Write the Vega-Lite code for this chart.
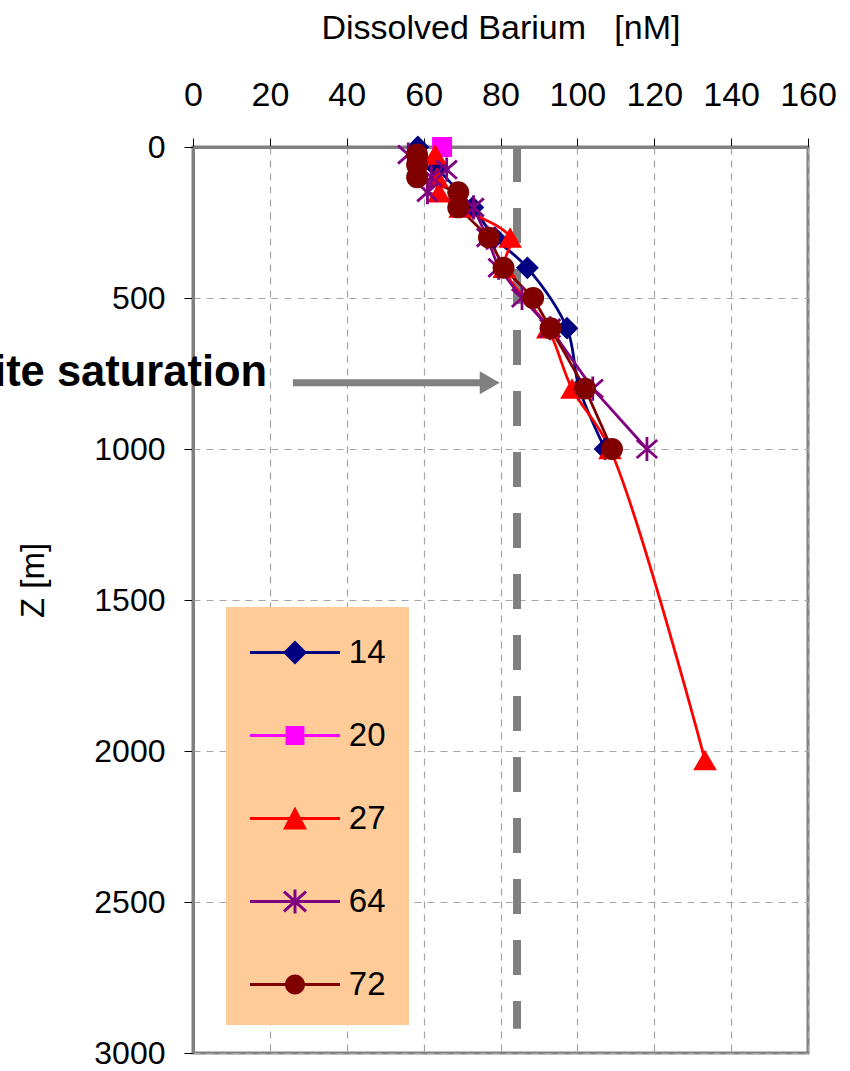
{
  "$schema": "https://vega.github.io/schema/vega-lite/v6.json",
  "autosize": {"type": "none"},
  "padding": {"left": 193, "top": 147, "right": 42, "bottom": 18},
  "width": 615,
  "height": 906,
  "background": "white",
  "config": {
    "font": "Arial",
    "view": {"stroke": "#808080", "strokeWidth": 3},
    "axis": {
      "domainColor": "#808080", "domainWidth": 3,
      "tickColor": "black", "tickWidth": 1, "tickSize": 9,
      "gridColor": "#A6A6A6", "gridDash": [7, 6], "gridWidth": 1.2,
      "labelFont": "Arial", "titleFont": "Arial",
      "labelColor": "black", "titleColor": "black", "titleFontWeight": "normal",
      "labelOverlap": false, "labelFlush": false
    }
  },
  "datasets": {
    "profiles": [
      {"series": "14", "z": 0, "ba": 58.5},
      {"series": "14", "z": 70, "ba": 63.5},
      {"series": "14", "z": 200, "ba": 72.8},
      {"series": "14", "z": 300, "ba": 78.5},
      {"series": "14", "z": 400, "ba": 87},
      {"series": "14", "z": 600, "ba": 97.3},
      {"series": "14", "z": 800, "ba": 100.5},
      {"series": "14", "z": 1000, "ba": 107.2},
      {"series": "20", "z": 0, "ba": 64.8},
      {"series": "27", "z": 25, "ba": 63},
      {"series": "27", "z": 100, "ba": 63.5},
      {"series": "27", "z": 150, "ba": 64},
      {"series": "27", "z": 200, "ba": 69.5},
      {"series": "27", "z": 300, "ba": 82.5},
      {"series": "27", "z": 400, "ba": 81},
      {"series": "27", "z": 600, "ba": 92.3},
      {"series": "27", "z": 800, "ba": 98.6},
      {"series": "27", "z": 1000, "ba": 108.5},
      {"series": "27", "z": 2030, "ba": 133.2},
      {"series": "64", "z": 25, "ba": 56},
      {"series": "64", "z": 75, "ba": 66},
      {"series": "64", "z": 100, "ba": 62},
      {"series": "64", "z": 150, "ba": 61},
      {"series": "64", "z": 200, "ba": 73},
      {"series": "64", "z": 300, "ba": 76.5},
      {"series": "64", "z": 400, "ba": 79.5},
      {"series": "64", "z": 500, "ba": 85.6},
      {"series": "64", "z": 600, "ba": 92.9},
      {"series": "64", "z": 800, "ba": 104},
      {"series": "64", "z": 1000, "ba": 118.1},
      {"series": "72", "z": 25, "ba": 58.3},
      {"series": "72", "z": 60, "ba": 58.3},
      {"series": "72", "z": 100, "ba": 58.3},
      {"series": "72", "z": 150, "ba": 69},
      {"series": "72", "z": 200, "ba": 69},
      {"series": "72", "z": 300, "ba": 77},
      {"series": "72", "z": 400, "ba": 80.8},
      {"series": "72", "z": 500, "ba": 88.5},
      {"series": "72", "z": 600, "ba": 93},
      {"series": "72", "z": 800, "ba": 102},
      {"series": "72", "z": 1000, "ba": 109}
    ],
    "saturation": [{"ba": 84.3, "z": 0, "z2": 2920}],
    "arrow": [{"ba": 26, "ba2": 75, "z": 781}],
    "arrowhead": [{"ba": 77.2, "z": 781}],
    "label": [{"ba": 19.3, "z": 790, "text": "Barite saturation"}]
  },
  "encoding": {
    "x": {
      "field": "ba", "type": "quantitative",
      "scale": {"domain": [0, 160], "nice": false, "zero": false},
      "axis": {
        "orient": "top", "values": [0, 20, 40, 60, 80, 100, 120, 140, 160],
        "title": "Dissolved Barium \u00a0 [nM]",
        "labelFontSize": 34, "labelBaseline": "alphabetic", "labelPadding": 33,
        "titleFontSize": 34, "titleBaseline": "alphabetic", "titleX": 307.5, "titleY": -109, "titleAlign": "center"
      }
    },
    "y": {
      "field": "z", "type": "quantitative",
      "scale": {"domain": [0, 3000], "reverse": true, "nice": false},
      "axis": {
        "values": [0, 500, 1000, 1500, 2000, 2500, 3000],
        "format": "d",
        "title": "Z [m]",
        "labelFontSize": 32, "labelPadding": 19,
        "titleFontSize": 33, "titleBaseline": "alphabetic", "titleX": -150, "titleY": 433, "titleAlign": "center", "titleAngle": -90
      }
    }
  },
  "layer": [
    {
      "data": {"name": "saturation"},
      "mark": {"type": "rule", "color": "#808080", "strokeWidth": 8, "strokeDash": [35, 26]},
      "encoding": {"y2": {"field": "z2"}}
    },
    {
      "data": {"name": "arrow"},
      "mark": {"type": "rule", "color": "#808080", "strokeWidth": 7},
      "encoding": {"x2": {"field": "ba2"}}
    },
    {
      "data": {"name": "arrowhead"},
      "mark": {"type": "point", "shape": "triangle-right", "size": 530, "filled": true, "color": "#808080", "opacity": 1},
      "encoding": {}
    },
    {
      "data": {"name": "label"},
      "mark": {"type": "text", "align": "right", "baseline": "alphabetic", "fontSize": 43.5, "fontWeight": "bold", "font": "Arial", "color": "black"},
      "encoding": {"text": {"field": "text"}}
    },
    {
      "data": {"name": "profiles"},
      "mark": {"type": "point", "filled": true, "opacity": 0},
      "encoding": {
        "color": {
          "field": "series", "type": "nominal",
          "scale": {"domain": ["14", "20", "27", "64", "72"], "range": ["#000080", "#FF00FF", "#FF0000", "#800080", "#800000"]},
          "legend": {
            "orient": "none", "legendX": 33, "legendY": 460, "title": null,
            "fillColor": "#FFCC99", "padding": 23, "rowPadding": 43,
            "labelFontSize": 33, "labelFont": "Arial", "labelColor": "black",
            "labelAlign": "right", "labelOffset": 68, "symbolOffset": 23.5,
            "symbolSize": 2025, "symbolOpacity": 1, "symbolStrokeWidth": 0
          }
        },
        "shape": {
          "field": "series", "type": "nominal",
          "scale": {
            "domain": ["14", "20", "27", "64", "72"],
            "range": [
              "M-2,-0.067H2V0.067H-2ZM0,-0.533L0.533,0L0,0.533L-0.533,0Z",
              "M-2,-0.067H2V0.067H-2ZM-0.42,-0.42H0.42V0.42H-0.42Z",
              "M-2,-0.067H2V0.067H-2ZM0,-0.533L0.533,0.49L-0.533,0.49Z",
              "M-2,-0.067H2V0.067H-2ZM-0.067,-0.533H0.067V0.533H-0.067ZM-0.534,-0.394L-0.444,-0.494L0.534,0.394L0.444,0.494ZM-0.444,0.494L-0.534,0.394L0.444,-0.494L0.534,-0.394Z",
              "M-2,-0.067H2V0.067H-2ZM-0.444,0A0.444,0.444 0 1,1 0.444,0A0.444,0.444 0 1,1 -0.444,0Z"
            ]
          },
          "legend": {
            "orient": "none", "legendX": 33, "legendY": 460, "title": null,
            "fillColor": "#FFCC99", "padding": 23, "rowPadding": 43,
            "labelFontSize": 33, "labelFont": "Arial", "labelColor": "black",
            "labelAlign": "right", "labelOffset": 68, "symbolOffset": 23.5,
            "symbolSize": 2025, "symbolOpacity": 1, "symbolStrokeWidth": 0
          }
        }
      }
    },
    {
      "data": {"name": "profiles"},
      "transform": [{"filter": "datum.series === '14' || datum.series === '27'"}],
      "mark": {"type": "line", "strokeWidth": 2.8, "interpolate": "catmull-rom"},
      "encoding": {
        "order": {"field": "z"},
        "color": {"field": "series", "type": "nominal", "legend": null}
      }
    },
    {
      "data": {"name": "profiles"},
      "transform": [{"filter": "datum.series !== '14' && datum.series !== '27'"}],
      "mark": {"type": "line", "strokeWidth": 2.8},
      "encoding": {
        "order": {"field": "z"},
        "color": {"field": "series", "type": "nominal", "legend": null}
      }
    },
    {
      "data": {"name": "profiles"},
      "transform": [{"filter": "datum.series === '14'"}],
      "mark": {"type": "point", "filled": true, "shape": "diamond", "size": 520, "opacity": 1},
      "encoding": {"color": {"field": "series", "type": "nominal", "legend": null}}
    },
    {
      "data": {"name": "profiles"},
      "transform": [{"filter": "datum.series === '20'"}],
      "mark": {"type": "point", "filled": true, "shape": "square", "size": 400, "opacity": 1},
      "encoding": {"color": {"field": "series", "type": "nominal", "legend": null}}
    },
    {
      "data": {"name": "profiles"},
      "transform": [{"filter": "datum.series === '27'"}],
      "mark": {"type": "point", "filled": true, "shape": "triangle-up", "size": 560, "opacity": 1},
      "encoding": {"color": {"field": "series", "type": "nominal", "legend": null}}
    },
    {
      "data": {"name": "profiles"},
      "transform": [{"filter": "datum.series === '64'"}],
      "mark": {"type": "point", "filled": false, "shape": "M0,-1V1M-0.85,-0.75L0.85,0.75M-0.85,0.75L0.85,-0.75", "size": 580, "strokeWidth": 2.8, "opacity": 1},
      "encoding": {"color": {"field": "series", "type": "nominal", "legend": null}}
    },
    {
      "data": {"name": "profiles"},
      "transform": [{"filter": "datum.series === '72'"}],
      "mark": {"type": "point", "filled": true, "shape": "circle", "size": 480, "opacity": 1},
      "encoding": {"color": {"field": "series", "type": "nominal", "legend": null}}
    }
  ]
}
